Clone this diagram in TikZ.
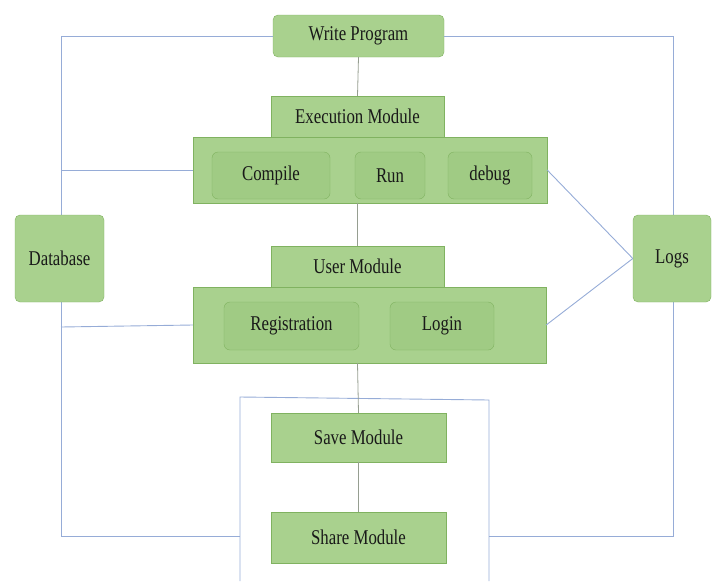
\documentclass[tikz,border=0pt]{standalone}
\usepackage{fontspec}
\newfontfamily\boxfont[FakeStretch=0.8]{Liberation Serif}
\definecolor{boxgreen}{RGB}{169,209,142}
\definecolor{innergreen}{RGB}{160,203,132}
\definecolor{edgegreen}{RGB}{128,178,96}
\definecolor{linkblue}{RGB}{150,172,215}
\definecolor{stemgray}{RGB}{150,158,145}
\tikzset{
  module/.style={draw=edgegreen, fill=boxgreen, inner sep=0pt, font=\boxfont\fontsize{21}{23}\selectfont, text=black!90},
  roundmod/.style={module, rounded corners=5pt},
  part/.style={draw=edgegreen, fill=innergreen, rounded corners=6pt, inner sep=0pt, font=\boxfont\fontsize{21}{23}\selectfont, text=black!90},
  link/.style={draw=linkblue, line width=0.9pt},
  stem/.style={draw=stemgray, line width=0.8pt}
}
\begin{document}
\begin{tikzpicture}[x=1pt, y=-1pt]
            \useasboundingbox (0, 0) rectangle (717, 581);

            % outer links
            \coordinate (tl) at (61, 36);
            \coordinate (tr) at (673, 36);
            \coordinate (bl) at (61, 536);
            \coordinate (br) at (673, 536);
            \coordinate (el) at (61, 170);
            \coordinate (ul) at (61, 327);

            \node[roundmod, minimum width=171pt, minimum height=42pt] (wp) at (358.5, 36) {Write Program};
            \node[module, minimum width=173pt, minimum height=41pt] (exec) at (357.5, 116.5) {Execution Module};
            \node[module, minimum width=354pt, minimum height=66pt] (execbox) at (370, 170) {};
            \node[part, minimum width=118pt, minimum height=47pt] (compile) at (271, 175.5) {Compile};
            \node[part, minimum width=70pt, minimum height=47pt] (run) at (390, 175.5) {Run};
            \node[part, minimum width=84pt, minimum height=47pt] (debug) at (490, 175.5) {debug};

            \node[module, minimum width=173pt, minimum height=41pt] (user) at (357.5, 266.5) {User Module};
            \node[module, minimum width=353pt, minimum height=76pt] (userbox) at (369.5, 325) {};
            \node[part, minimum width=135pt, minimum height=48pt] (reg) at (291.5, 326) {Registration};
            \node[part, minimum width=104pt, minimum height=48pt] (login) at (442, 326) {Login};

            % save / share frame
            \coordinate (fl) at (240, 581);
            \coordinate (ftl) at (240, 397);
            \coordinate (ftr) at (489, 400);
            \coordinate (fr) at (489, 581);
            \draw[link] (fl) -- (ftl) -- (ftr) -- (fr);

            \draw[link] (wp.west) -- (tl) -- (bl) -- (fl |- bl);
            \draw[link] (wp.east) -- (tr) -- (br) -- (fr |- br);
            \draw[link] (execbox.west) -- (el);
            \draw[link] (userbox.west) -- (ul);

            \node[roundmod, minimum width=89pt, minimum height=87pt] (db) at (59.5, 258.5) {Database};
            \node[roundmod, minimum width=78pt, minimum height=87pt] (logs) at (672, 258.5) {Logs};
            \draw[link] (execbox.east) -- (logs.west);
            \draw[link] (userbox.east) -- (logs.west);

            \node[module, minimum width=175pt, minimum height=49pt] (save) at (358.5, 437.5) {Save Module};
            \node[module, minimum width=175pt, minimum height=51pt] (share) at (358.5, 537.5) {Share Module};

            \draw[stem] (wp.south) -- (exec.north);
            \draw[stem] (execbox.south -| exec.south) -- (user.north);
            \draw[stem] (userbox.south -| user.south) -- (save.north);
            \draw[stem] (save.south) -- (share.north);
        \end{tikzpicture}
\end{document}
